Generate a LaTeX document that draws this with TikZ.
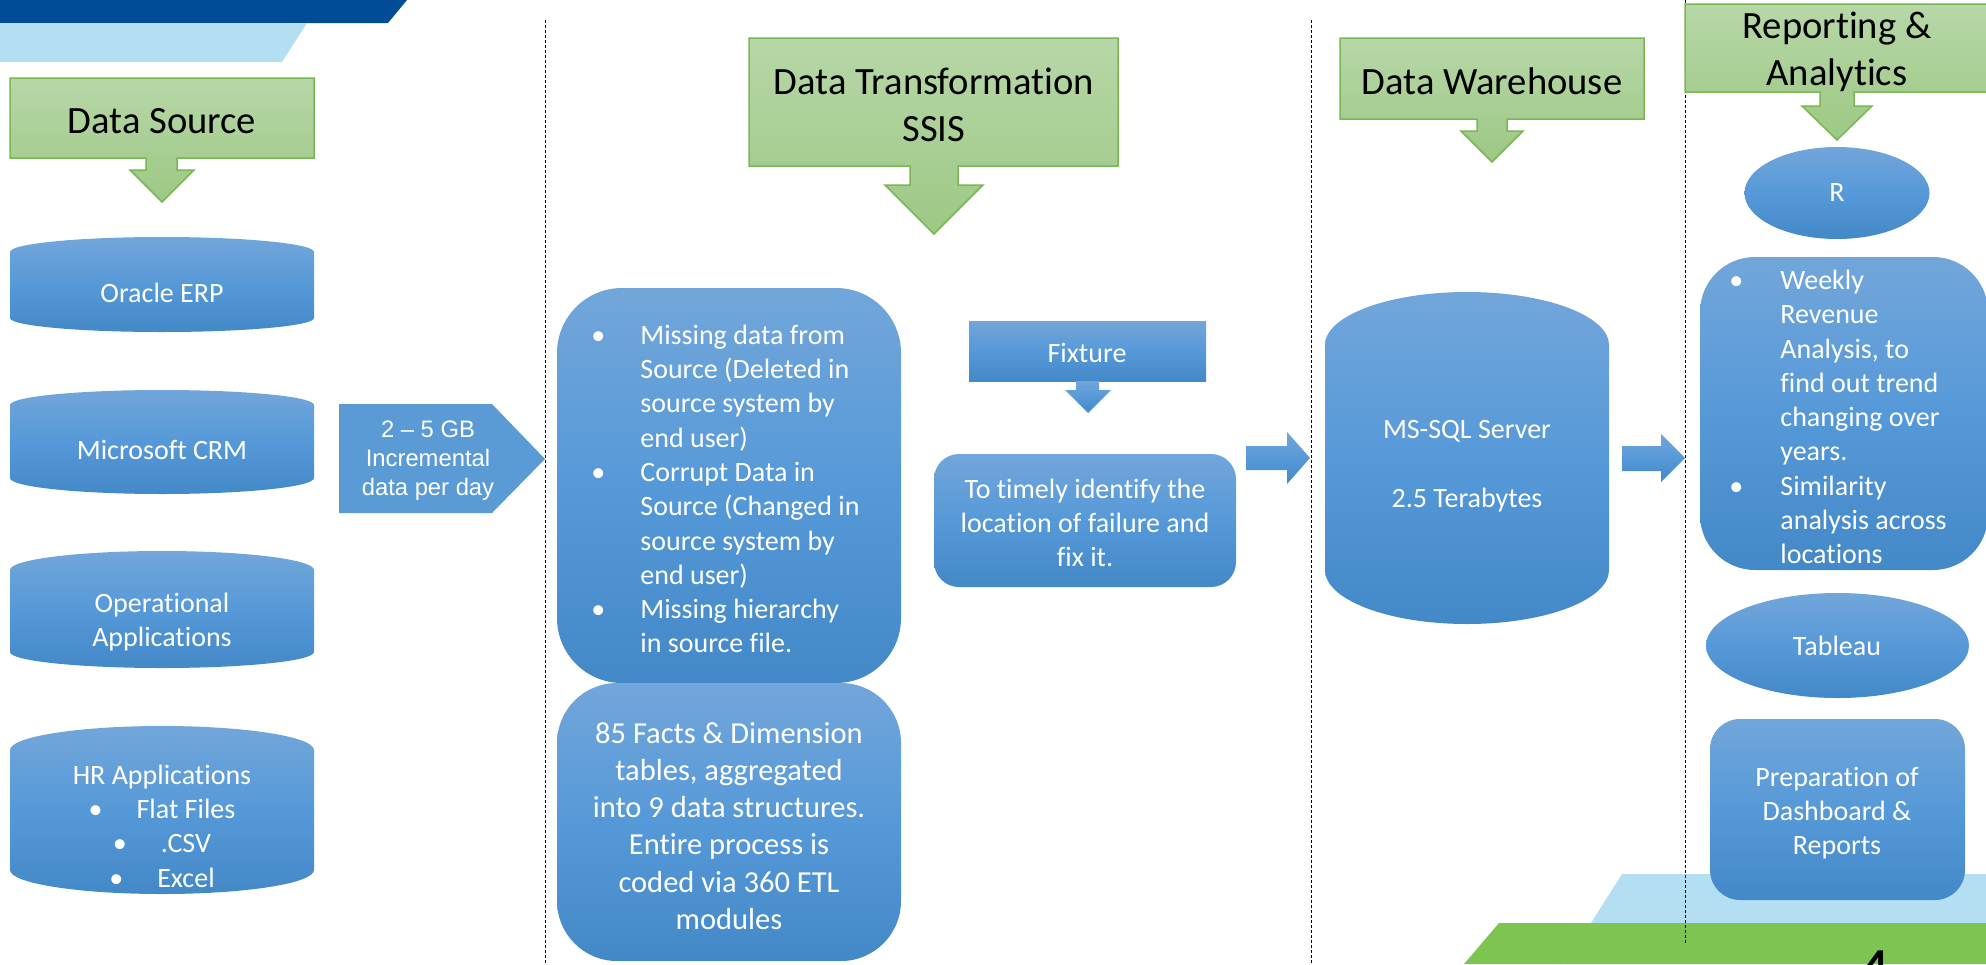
\documentclass[tikz,border=0pt]{standalone}
\usepackage{fontspec}
\setmainfont{Carlito}[Ligatures=NoCommon]
\newfontfamily\arialfont{Liberation Sans}

\newlength{\du}
\setlength{\du}{0.5pt}

\definecolor{headtop}{RGB}{183,215,168}
\definecolor{headbot}{RGB}{157,200,132}
\definecolor{headline}{RGB}{122,182,84}
\definecolor{bluetop}{RGB}{114,166,218}
\definecolor{bluemid}{RGB}{86,153,216}
\definecolor{bluebot}{RGB}{67,136,199}
\definecolor{volblue}{RGB}{91,155,213}
\definecolor{darkband}{RGB}{0,76,151}
\definecolor{lightband}{RGB}{180,223,243}
\definecolor{footgreen}{RGB}{126,196,80}

\tikzset{
  headfill/.style={top color=headtop, bottom color=headbot, draw=headline, line width=1.5\du, line join=miter},
  bluefill/.style={top color=bluetop, bottom color=bluebot, middle color=bluemid},
  divider/.style={draw=black, line width=1\du, dash pattern=on 3\du off 2\du},
  headtext/.style={inner sep=0pt, align=center, font=\fontsize{19.3pt}{23.5pt}\selectfont},
  bodytext/.style={inner sep=0pt, align=center, text=white, font=\fontsize{14pt}{17.15pt}\selectfont},
  listtext/.style={bodytext, align=left, anchor=west},
  voltext/.style={inner sep=0pt, align=center, text=white, font=\arialfont\fontsize{11.9pt}{14.5pt}\selectfont},
}

% bullet hanging left of a list line
\newcommand{\listbul}[1]{\leavevmode\llap{\makebox[#1][l]{\textbullet}}}
% can shape: left x, right x, top apex, top corner, bottom corner, bottom apex
\newcommand{\dbcan}[6]{%
  \path[bluefill] (#1,#4) arc[start angle=180, end angle=360, x radius={(#2-#1)/2}, y radius={#4-#3}]
    -- (#2,#5) arc[start angle=0, end angle=180, x radius={(#2-#1)/2}, y radius={#6-#5}] -- cycle;}

\begin{document}
\begin{tikzpicture}[x=1\du, y=-1\du]
\useasboundingbox (0,0) rectangle (1986,964);

% slide bands
\fill[darkband] (0,0) -- (407,0) -- (388,23) -- (0,23) -- cycle;
\fill[lightband] (0,23) -- (307,23) -- (282,62) -- (0,62) -- cycle;
\fill[lightband] (1622,874) -- (1990,874) -- (1990,964) -- (1565,964) -- cycle;
\fill[footgreen] (1499,923) -- (1990,923) -- (1990,964) -- (1464,964) -- cycle;

% column dividers
\draw[divider] (545,20) -- (545,964);
\draw[divider] (1311,20) -- (1311,964);
\draw[divider] (1685,0) -- (1685,944);

% headers with down arrows
\path[headfill] (10,78) -- (314,78) -- (314,158) -- (177,158) -- (177,170) -- (194,170) -- (162,202)
  -- (130,170) -- (146,170) -- (146,158) -- (10,158) -- cycle;
\node[headtext] (srchead) at (162,121) {Data Source};
\path[headfill] (749,38) -- (1118,38) -- (1118,166) -- (958,166) -- (958,185) -- (983,185) -- (934,234)
  -- (885,185) -- (910,185) -- (910,166) -- (749,166) -- cycle;
\node[headtext] (etlhead) at (934,105) {Data Transformation\\SSIS};
\path[headfill] (1340,38) -- (1644,38) -- (1644,119) -- (1507,119) -- (1507,131) -- (1523,131) -- (1492,162)
  -- (1461,131) -- (1477,131) -- (1477,119) -- (1340,119) -- cycle;
\node[headtext] (dwhead) at (1492,81) {Data Warehouse};
\path[headfill] (1685,4) -- (1990,4) -- (1990,92) -- (1854,92) -- (1854,106) -- (1872,106) -- (1837,140)
  -- (1802,106) -- (1820,106) -- (1820,92) -- (1685,92) -- cycle;
\node[headtext] (bihead) at (1837,52) {Reporting \&\\Analytics};

% sources
\dbcan{10}{314}{237}{252}{318}{332}
\node[bodytext] (oracle) at (162,293) {Oracle ERP};
\dbcan{10}{314}{390}{405}{478}{494}
\node[bodytext] (mscrm) at (162,450) {Microsoft CRM};
\dbcan{10}{314}{551}{570}{652}{668}
\node[bodytext] (opsapps) at (162,622) {Operational\\Applications};
\dbcan{10}{314}{726}{750}{870}{894}
\node[bodytext] (hrapps) at (162,826) {HR Applications\\
  \makebox[48\du][l]{\textbullet}Flat Files\\
  \makebox[48\du][l]{\textbullet}.CSV\\
  \makebox[48\du][l]{\textbullet}Excel};

\fill[volblue] (339,404) -- (492,404) -- (545,459) -- (492,513) -- (339,513) -- cycle;
\node[voltext] (volume) at (428,461) {2 – 5 GB\\Incremental\\data per day};

% transformation
\path[bluefill, rounded corners=65\du] (557,288) rectangle (901,683);
\node[listtext] (issues) at (640,489) {\listbul{49\du}Missing data from\\Source (Deleted in\\source system by\\end user)\\
  \listbul{49\du}Corrupt Data in\\Source (Changed in\\source system by\\end user)\\
  \listbul{49\du}Missing hierarchy\\in source file.};
\path[bluefill, rounded corners=60\du] (557,683) rectangle (901,961);
\node[bodytext, font=\fontsize{15.25pt}{18.6pt}\selectfont] (facts) at (729,826)
  {85 Facts \& Dimension\\tables, aggregated\\into 9 data structures.\\Entire process is\\coded via 360 ETL\\modules};

\path[bluefill] (969,321) rectangle (1206,381);
\node[bodytext] (fixture) at (1087,353) {Fixture};
\path[bluefill] (1076,381) -- (1099,381) -- (1099,390) -- (1111,390) -- (1088,413) -- (1065,390) -- (1076,390) -- cycle;
\path[bluefill, rounded corners=25\du] (934,454) rectangle (1236,587);
\node[bodytext] (timely) at (1085,523) {To timely identify the\\location of failure and\\fix it.};
\path[bluefill] (1246,446) -- (1287,446) -- (1287,432) -- (1310,458) -- (1287,484) -- (1287,470) -- (1246,470) -- cycle;

% warehouse
\dbcan{1325}{1609}{292}{345}{570}{624}
\node[bodytext] (mssql) at (1467,466) {MS-SQL Server\\[17.15pt]2.5 Terabytes};
\path[bluefill] (1622,446) -- (1661,446) -- (1661,434) -- (1685,458) -- (1661,482) -- (1661,471) -- (1622,471) -- cycle;

% reporting
\path[bluefill] (1837,193) ellipse[x radius=92.5, y radius=46];
\node[bodytext] (rtool) at (1837,193) {R};
\path[bluefill, rounded corners=55\du] (1700,257) rectangle (1988,570);
\node[listtext] (trends) at (1780,417) {\listbul{51\du}Weekly\\Revenue\\Analysis, to\\find out trend\\changing over\\years.\\
  \listbul{51\du}Similarity\\analysis across\\locations};
\path[bluefill] (1837.5,645.5) ellipse[x radius=131.5, y radius=52.5];
\node[bodytext] (tableau) at (1837,646) {Tableau};
\path[bluefill, rounded corners=30\du] (1710,719) rectangle (1965,900);
\node[bodytext] (dashprep) at (1837,813) {Preparation of\\Dashboard \&\\Reports};

\node[inner sep=0pt, anchor=north, font=\fontsize{34pt}{40pt}\selectfont] (slideno) at (1874,950) {4};
\end{tikzpicture}
\end{document}
